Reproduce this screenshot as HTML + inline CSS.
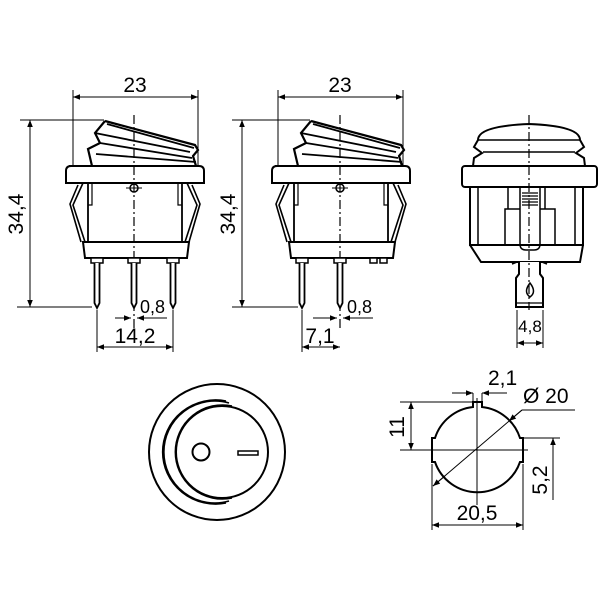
<!DOCTYPE html>
<html><head><meta charset="utf-8"><style>
html,body{margin:0;padding:0;background:#fff;}
svg{display:block;}
text{font-family:"Liberation Sans",sans-serif;fill:#000;}
</style></head><body>
<svg width="600" height="600" viewBox="0 0 600 600" xmlns="http://www.w3.org/2000/svg">
<defs>
<marker id="a" viewBox="0 0 10 10" refX="10" refY="5" markerWidth="9" markerHeight="7" orient="auto-start-reverse" markerUnits="userSpaceOnUse"><path d="M0,1 L10,5 L0,9 z" fill="#000"/></marker>
<g id="side">
  <path d="M-29,121 L61,145 L64,150 L59,156 L62,166 M-29,121 L-39,133 L-34,143 L-46,149 L-42,166" fill="none" stroke="#000" stroke-width="2.2"/>
  <path d="M-27,124 L60,148 M-34,143 L58,158 M-38,154 L62,162 M-39,133 L56,152" fill="none" stroke="#000" stroke-width="1.8"/>
  <path d="M-65,166 L65,166 Q70,166 70,171 L70,183 L-68,183 L-68,171 Q-68,166 -63,166 Z" fill="#fff" stroke="#000" stroke-width="2"/>
  <rect x="-46" y="183" width="94" height="59" fill="none" stroke="#000" stroke-width="1.8"/>
  <path d="M-42,183 L-42,205 L-46,205 M44,183 L44,205 L48,205" fill="none" stroke="#000" stroke-width="1.2"/>
  <path d="M-51,183 L-61,205 L-49,242 M-56,185 L-64,204 L-53,242" fill="none" stroke="#000" stroke-width="1.6"/>
  <path d="M53,183 L63,205 L51,242 M58,185 L66,204 L55,242" fill="none" stroke="#000" stroke-width="1.6"/>
  <path d="M-51,242 L55,242 L53,258 L-49,258 Z" fill="#fff" stroke="#000" stroke-width="2"/>
  <circle cx="0" cy="188" r="4" fill="#fff" stroke="#000" stroke-width="1.5"/>
  <line x1="-8" y1="188" x2="8" y2="188" stroke="#000" stroke-width="1"/>
  <line x1="0" y1="115" x2="0" y2="330" stroke="#000" stroke-width="1.2" stroke-dasharray="9,3,2,3"/>
</g>
<g id="pin">
  <rect x="-6" y="258" width="12" height="5" fill="#fff" stroke="#000" stroke-width="1.5"/>
  <path d="M-2.5,263 L-2.5,303 L0,308 L2.5,303 L2.5,263" fill="#fff" stroke="#000" stroke-width="1.8"/>
</g>
</defs>

<use href="#side" x="134" y="0"/>
<use href="#pin" x="97" y="0"/>
<use href="#pin" x="134" y="0"/>
<use href="#pin" x="173" y="0"/>
<g stroke="#000" stroke-width="1" fill="none">
  <line x1="73" y1="90" x2="73" y2="166"/><line x1="198" y1="90" x2="198" y2="166"/>
  <line x1="73" y1="97" x2="198" y2="97" marker-start="url(#a)" marker-end="url(#a)"/>
  <line x1="20" y1="120" x2="104" y2="120"/><line x1="17" y1="307" x2="92" y2="307"/>
  <line x1="30" y1="120" x2="30" y2="307" marker-start="url(#a)" marker-end="url(#a)"/>
  <line x1="97" y1="310" x2="97" y2="352"/><line x1="173" y1="310" x2="173" y2="352"/>
  <line x1="97" y1="347" x2="173" y2="347" marker-start="url(#a)" marker-end="url(#a)"/>
  <line x1="115" y1="318" x2="131" y2="318" marker-end="url(#a)"/>
  <line x1="150" y1="318" x2="137" y2="318" marker-end="url(#a)"/>
  <line x1="137" y1="318" x2="167" y2="318"/>
</g>
<text x="135" y="92" font-size="21" text-anchor="middle">23</text>
<text x="135" y="343" font-size="21" text-anchor="middle">14,2</text>
<text x="140" y="313" font-size="18">0,8</text>
<text transform="translate(23,214) rotate(-90)" font-size="21" text-anchor="middle">34,4</text>

<use href="#side" x="340" y="0"/>
<use href="#pin" x="302" y="0"/>
<use href="#pin" x="340" y="0"/>
<rect x="370" y="258" width="7" height="5" fill="#fff" stroke="#000" stroke-width="1.5"/>
<rect x="380" y="258" width="7" height="5" fill="#fff" stroke="#000" stroke-width="1.5"/>
<g stroke="#000" stroke-width="1" fill="none">
  <line x1="278" y1="90" x2="278" y2="166"/><line x1="403" y1="90" x2="403" y2="166"/>
  <line x1="278" y1="97" x2="403" y2="97" marker-start="url(#a)" marker-end="url(#a)"/>
  <line x1="232" y1="120" x2="310" y2="120"/><line x1="232" y1="307" x2="298" y2="307"/>
  <line x1="242" y1="120" x2="242" y2="307" marker-start="url(#a)" marker-end="url(#a)"/>
  <line x1="302" y1="310" x2="302" y2="352"/>
  <line x1="302" y1="347" x2="340" y2="347" marker-start="url(#a)" marker-end="url(#a)"/>
  <line x1="313" y1="318" x2="337" y2="318" marker-end="url(#a)"/>
  <line x1="360" y1="318" x2="343" y2="318" marker-end="url(#a)"/>
  <line x1="343" y1="318" x2="373" y2="318"/>
</g>
<text x="340" y="92" font-size="21" text-anchor="middle">23</text>
<text x="320" y="343" font-size="21" text-anchor="middle">7,1</text>
<text x="347" y="313" font-size="18">0,8</text>
<text transform="translate(235,214) rotate(-90)" font-size="21" text-anchor="middle">34,4</text>

<g stroke="#000" stroke-width="2" fill="none">
  <path d="M478,140 Q478,126 529,124 Q580,126 580,140 L584,147 L576,153 L584,158 L585,166 L473,166 L474,158 L482,153 L474,147 Z" fill="#fff"/>
  <path d="M478,140 L580,140 M483,152 L575,152" stroke-width="1.5"/>
  <rect x="462" y="166" width="135" height="21" rx="3" fill="#fff"/>
  <rect x="470" y="187" width="113" height="58"/>
  <path d="M478,187 L478,245 M575,187 L575,245" stroke-width="1.5"/>
  <path d="M470,245 L481,262 L580,262 L583,245"/>
  <path d="M508,187 L508,209 M545,187 L545,209" stroke-width="1.5"/>
  <path d="M505,245 L505,209 L520,209 M555,245 L555,209 L540,209" stroke-width="1.5"/>
  <path d="M520,187 L520,244 Q520,250 526,250 L534,250 Q540,250 540,244 L540,187" stroke-width="1.5"/>
  <path d="M519,262 L519,274 L516,278 L516,307 L543,307 L543,278 L540,274 L540,262" fill="#fff"/>
  <path d="M516,303 L543,303" stroke-width="1.2"/>
  <path d="M530,283 Q537,292 530,297 Q523,292 530,283 Z" stroke-width="1.5"/>
  <path d="M512,264 L517,262 M547,264 L542,262" stroke-width="1.5"/>
</g>
<g stroke="#000" stroke-width="1.2">
  <path d="M522,193 H538 M522,196 H538 M522,199 H538 M522,202 H538 M522,205 H538"/>
  <line x1="529" y1="115" x2="529" y2="310" stroke-dasharray="9,3,2,3"/>
</g>
<g stroke="#000" stroke-width="1" fill="none">
  <line x1="517" y1="310" x2="517" y2="348"/><line x1="543" y1="310" x2="543" y2="348"/>
  <line x1="517" y1="343" x2="543" y2="343" marker-start="url(#a)" marker-end="url(#a)"/>
</g>
<text x="530" y="332" font-size="17" text-anchor="middle">4,8</text>

<g stroke="#000" stroke-width="2" fill="none">
  <circle cx="217" cy="452" r="68"/>
  <circle cx="222" cy="452" r="46"/>
  <path d="M232,406 A47,47 0 1 0 232,498" stroke-width="1.6"/>
  <path d="M229,403 A51,51 0 1 0 229,501" stroke-width="1.6"/>
  <path d="M226,401 A53,52 0 1 0 226,503" stroke-width="1.6"/>
  <circle cx="201" cy="452" r="8.5"/>
  <rect x="238" y="451" width="20" height="4" stroke-width="1.5"/>
</g>

<g stroke="#000" stroke-width="2" fill="none">
  <path d="M473,407 L473,402 L482,402 L482,407 A45,45 0 0 1 520,438 L523,438 L523,462 L520,462 A45,45 0 0 1 435,462 L432,462 L432,438 L435,438 A45,45 0 0 1 473,407 Z"/>
</g>
<g stroke="#000" stroke-width="1" fill="none">
  <line x1="477" y1="398" x2="477" y2="505"/>
  <line x1="425" y1="450" x2="528" y2="450"/>
  <line x1="400" y1="402" x2="472" y2="402"/>
  <line x1="400" y1="450" x2="430" y2="450"/>
  <line x1="411" y1="402" x2="411" y2="450" marker-start="url(#a)" marker-end="url(#a)"/>
  <line x1="524" y1="438" x2="560" y2="438"/>
  <line x1="553" y1="500" x2="553" y2="438"/>
  <line x1="553" y1="462" x2="553" y2="438" marker-end="url(#a)"/>
  <line x1="432" y1="464" x2="432" y2="530"/><line x1="523" y1="464" x2="523" y2="530"/>
  <line x1="432" y1="525" x2="523" y2="525" marker-start="url(#a)" marker-end="url(#a)"/>
  <line x1="452" y1="393" x2="473" y2="393" marker-end="url(#a)"/>
  <line x1="507" y1="393" x2="482" y2="393" marker-end="url(#a)"/>
  <line x1="473" y1="393" x2="473" y2="402"/><line x1="482" y1="393" x2="482" y2="402"/>
  <line x1="575" y1="410" x2="522" y2="410"/>
  <line x1="522" y1="410" x2="509" y2="421" marker-end="url(#a)"/>
  <line x1="522" y1="410" x2="433" y2="486"/>
  <line x1="433" y1="486" x2="445" y2="476" marker-start="url(#a)"/>
</g>
<text x="488" y="385" font-size="21">2,1</text>
<text x="523" y="403" font-size="21">Ø 20</text>
<text transform="translate(404,427) rotate(-90)" font-size="21" text-anchor="middle">11</text>
<text transform="translate(547,480) rotate(-90)" font-size="21" text-anchor="middle">5,2</text>
<text x="477" y="520" font-size="21" text-anchor="middle">20,5</text>
</svg>
</body></html>
